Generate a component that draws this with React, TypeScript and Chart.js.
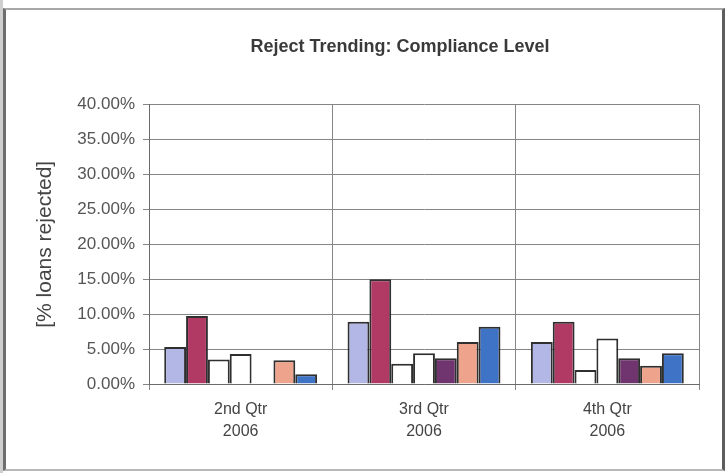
import React, { useEffect, useRef } from "react";
import { Chart, registerables } from "chart.js";

Chart.register(...registerables);

// Quarterly reject rates, in percent of loans
const quarters = [["2nd Qtr", "2006"], ["3rd Qtr", "2006"], ["4th Qtr", "2006"]];
const seriesA = [5.3, 8.9, 6.0];
const seriesB = [9.75, 15.0, 8.9];
const seriesC = [3.5, 2.9, 2.0];
const seriesD = [4.3, 4.4, 6.5];
const seriesE = [null, 3.7, 3.7];
const seriesF = [3.4, 6.0, 2.6];
const seriesG = [1.4, 8.2, 4.4];

const seriesColors = ["#b3b7e6", "#b03a63", "#ffffff", "#ffffff", "#70346f", "#eda38c", "#3f73c6"];
const seriesValues = [seriesA, seriesB, seriesC, seriesD, seriesE, seriesF, seriesG];

const yMin = 0;
const yMax = 40;
const yStep = 5;

const FONT = "'Liberation Sans', Arial, Helvetica, sans-serif";

// The title is centred over the span from x=101 to the right edge of the plot
const titleSpan = {
  id: "titleSpan",
  afterLayout(chart: any) {
    const t = chart.titleBlock;
    if (t) {
      t.left = 101;
      t.right = chart.chartArea.right;
    }
  },
};

export default function App() {
  const canvasRef = useRef<HTMLCanvasElement | null>(null);

  useEffect(() => {
    if (!canvasRef.current) return;
    const chart = new Chart(canvasRef.current, {
      type: "bar",
      data: {
        labels: quarters,
        datasets: seriesValues.map((values, i) => ({
          label: `Series ${i + 1}`,
          data: values,
          backgroundColor: seriesColors[i],
          borderColor: "#2f2f2f",
          borderWidth: 2,
          categoryPercentage: 0.834,
          barPercentage: 1.0,
        })),
      },
      options: {
        responsive: false,
        animation: false,
        layout: { padding: { left: 0, right: 27, top: 0, bottom: 0 } },
        plugins: {
          legend: { display: false },
          tooltip: { enabled: false },
          title: {
            display: true,
            text: "Reject Trending: Compliance Level",
            color: "#3a3a3a",
            font: { family: FONT, size: 18, weight: "bold" },
            padding: { top: 36, bottom: 47 },
          },
        },
        scales: {
          x: {
            offset: true,
            grid: {
              offset: true,
              color: "#858585",
              lineWidth: 1,
              tickLength: 6,
            },
            border: { color: "#6a6a6a", width: 1 },
            ticks: {
              color: "#444444",
              padding: 9,
              font: { family: FONT, size: 16, lineHeight: 1.35 },
              maxRotation: 0,
            },
            afterFit: (scale: any) => {
              scale.height = 89;
            },
          },
          y: {
            min: yMin,
            max: yMax,
            grid: { color: "#858585", lineWidth: 1, tickLength: 6 },
            border: { color: "#6a6a6a", width: 1 },
            ticks: {
              stepSize: yStep,
              color: "#555555",
              padding: 8,
              font: { family: FONT, size: 17 },
              callback: (v: any) => `${Number(v).toFixed(2)}%`,
            },
            title: {
              display: true,
              text: "[% loans rejected]",
              color: "#444444",
              font: { family: FONT, size: 21 },
              padding: { top: 33, bottom: 0 },
            },
            afterFit: (scale: any) => {
              scale.width = 149;
            },
          },
        },
      },
      plugins: [titleSpan],
    });
    return () => chart.destroy();
  }, []);

  return (
    <div
      style={{
        position: "fixed",
        left: 0,
        top: 0,
        width: 726,
        height: 473,
        background: "#ffffff",
        overflow: "hidden",
      }}
    >
      <div
        style={{
          position: "absolute",
          left: 0,
          top: 0,
          width: 3,
          height: 473,
          background: "#cfcfcf",
        }}
      />
      <div
        style={{
          position: "absolute",
          left: 3,
          top: 8,
          width: 716,
          height: 459,
          borderLeft: "3px solid #6e6e6e",
          borderTop: "2px solid #a8a8a8",
          borderRight: "3px solid #5e5e5e",
          borderBottom: "2px solid #b8b8b8",
        }}
      />
      <canvas
        ref={canvasRef}
        width={726}
        height={473}
        style={{ position: "absolute", left: 0, top: 0 }}
      />
    </div>
  );
}
